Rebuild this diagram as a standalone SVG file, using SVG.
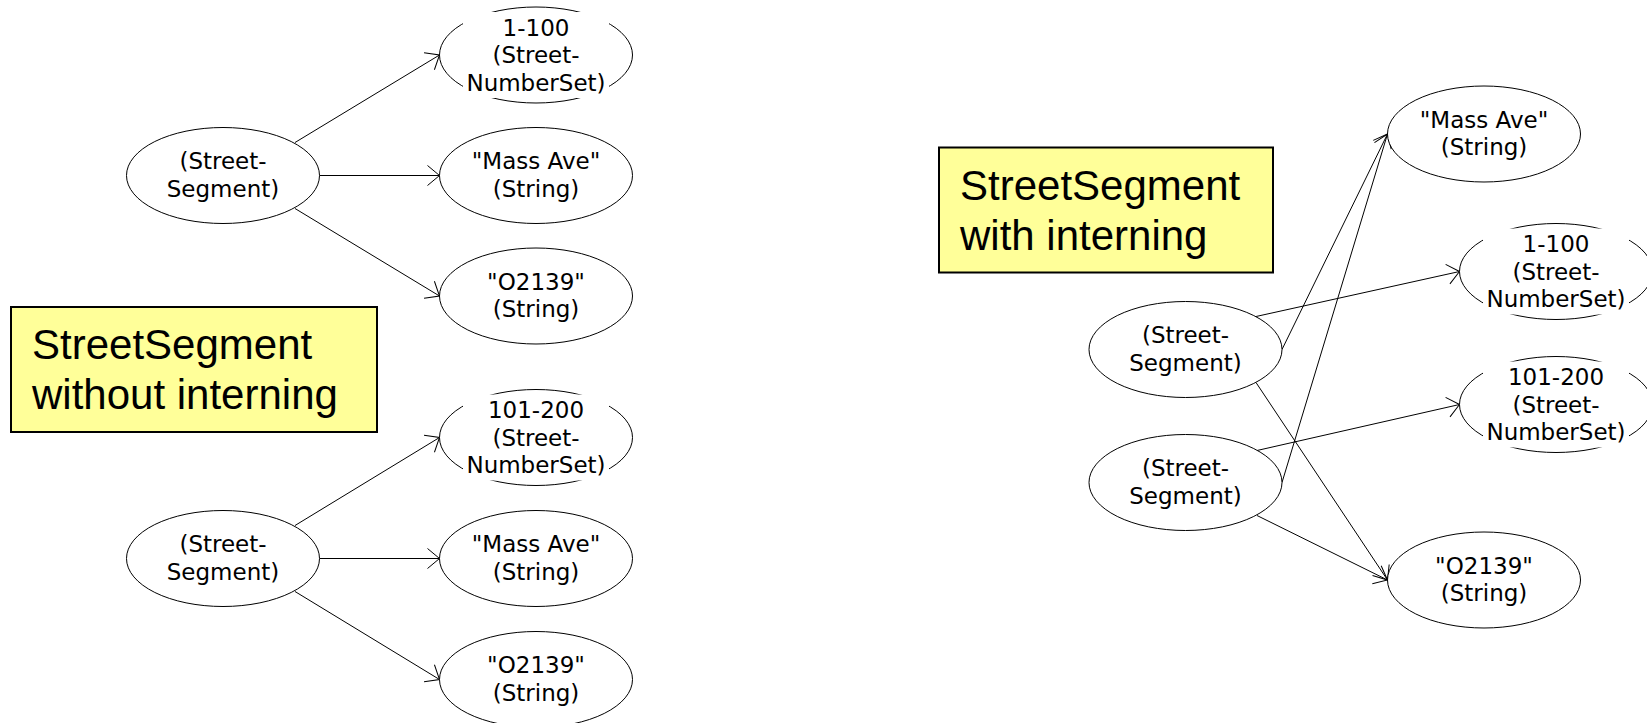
<svg xmlns="http://www.w3.org/2000/svg" width="1647" height="723" viewBox="0 0 1647 723">
<style>
.e{fill:#fff;stroke:#000;stroke-width:1}
.m{fill:#fff;stroke:none}
.n{font-family:"DejaVu Sans",sans-serif;font-size:23px;text-anchor:middle;fill:#000}
.c{fill:none;stroke:#000;stroke-width:1;marker-end:url(#arr)}
.box{fill:#ffff99;stroke:#000;stroke-width:2}
.bt{font-family:"Liberation Sans",Arial,sans-serif;font-size:42px;fill:#000}
</style>
<defs>
<marker id="arr" markerUnits="userSpaceOnUse" orient="auto" viewBox="-14 -12 16 24" refX="0" refY="0" markerWidth="16" markerHeight="24">
<path d="M-12,-10 L0,0 L-12,10" fill="none" stroke="#000" stroke-width="1"/>
</marker>
</defs>
<rect width="1647" height="723" fill="#fff"/>
<g id="connectors">
<line class="c" x1="295" y1="142.5" x2="439.5" y2="55"/>
<line class="c" x1="319.5" y1="175.5" x2="439.5" y2="175.5"/>
<line class="c" x1="295" y1="208.5" x2="439.5" y2="296"/>
<line class="c" x1="295" y1="525.5" x2="439.5" y2="437.5"/>
<line class="c" x1="319.5" y1="558.5" x2="439.5" y2="558.5"/>
<line class="c" x1="295" y1="591.5" x2="439.5" y2="679.5"/>
<line class="c" x1="1282" y1="349.5" x2="1387.5" y2="134"/>
<line class="c" x1="1256" y1="316.5" x2="1459.5" y2="271.5"/>
<line class="c" x1="1256" y1="382.5" x2="1387.5" y2="580"/>
<line class="c" x1="1282" y1="482.5" x2="1387.5" y2="134"/>
<line class="c" x1="1257" y1="450.5" x2="1459.5" y2="404.5"/>
<line class="c" x1="1257" y1="515.5" x2="1387.5" y2="580"/>
</g>
<g id="ss-left-1"><ellipse class="e" cx="223" cy="175.5" rx="96.5" ry="48"/><text class="n" x="223" y="169">(Street-</text><text class="n" x="223" y="196.5">Segment)</text></g>
<g id="ns-left-1"><ellipse class="e" cx="536" cy="55" rx="96.5" ry="48"/><rect class="m" x="463" y="12" width="146" height="86"/><text class="n" x="536" y="35.5">1-100</text><text class="n" x="536" y="63">(Street-</text><text class="n" x="536" y="90.5">NumberSet)</text></g>
<g id="mass-left-1"><ellipse class="e" cx="536" cy="175.5" rx="96.5" ry="48"/><text class="n" x="536" y="169">"Mass Ave"</text><text class="n" x="536" y="196.5">(String)</text></g>
<g id="zip-left-1"><ellipse class="e" cx="536" cy="296" rx="96.5" ry="48"/><text class="n" x="536" y="289.5">"O2139"</text><text class="n" x="536" y="317">(String)</text></g>
<g id="ss-left-2"><ellipse class="e" cx="223" cy="558.5" rx="96.5" ry="48"/><text class="n" x="223" y="552">(Street-</text><text class="n" x="223" y="579.5">Segment)</text></g>
<g id="ns-left-2"><ellipse class="e" cx="536" cy="437.5" rx="96.5" ry="48"/><rect class="m" x="463" y="394.5" width="146" height="86"/><text class="n" x="536" y="418">101-200</text><text class="n" x="536" y="445.5">(Street-</text><text class="n" x="536" y="473">NumberSet)</text></g>
<g id="mass-left-2"><ellipse class="e" cx="536" cy="558.5" rx="96.5" ry="48"/><text class="n" x="536" y="552">"Mass Ave"</text><text class="n" x="536" y="579.5">(String)</text></g>
<g id="zip-left-2"><ellipse class="e" cx="536" cy="679.5" rx="96.5" ry="48"/><text class="n" x="536" y="673">"O2139"</text><text class="n" x="536" y="700.5">(String)</text></g>
<g id="label-without"><rect class="box" x="11" y="307" width="366" height="125"/><text class="bt" x="32" y="359">StreetSegment</text><text class="bt" x="32" y="409">without interning</text></g>
<g id="label-with"><rect class="box" x="939" y="147.5" width="334" height="125"/><text class="bt" x="960" y="200">StreetSegment</text><text class="bt" x="960" y="250">with interning</text></g>
<g id="ss-right-1"><ellipse class="e" cx="1185.5" cy="349.5" rx="96.5" ry="48"/><text class="n" x="1185.5" y="343">(Street-</text><text class="n" x="1185.5" y="370.5">Segment)</text></g>
<g id="ss-right-2"><ellipse class="e" cx="1185.5" cy="482.5" rx="96.5" ry="48"/><text class="n" x="1185.5" y="476">(Street-</text><text class="n" x="1185.5" y="503.5">Segment)</text></g>
<g id="mass-right"><ellipse class="e" cx="1484" cy="134" rx="96.5" ry="48"/><text class="n" x="1484" y="127.5">"Mass Ave"</text><text class="n" x="1484" y="155">(String)</text></g>
<g id="ns-right-1"><ellipse class="e" cx="1556" cy="271.5" rx="96.5" ry="48"/><rect class="m" x="1483" y="228.5" width="146" height="86"/><text class="n" x="1556" y="252">1-100</text><text class="n" x="1556" y="279.5">(Street-</text><text class="n" x="1556" y="307">NumberSet)</text></g>
<g id="ns-right-2"><ellipse class="e" cx="1556" cy="404.5" rx="96.5" ry="48"/><rect class="m" x="1483" y="361.5" width="146" height="86"/><text class="n" x="1556" y="385">101-200</text><text class="n" x="1556" y="412.5">(Street-</text><text class="n" x="1556" y="440">NumberSet)</text></g>
<g id="zip-right"><ellipse class="e" cx="1484" cy="580" rx="96.5" ry="48"/><text class="n" x="1484" y="573.5">"O2139"</text><text class="n" x="1484" y="601">(String)</text></g>
</svg>
